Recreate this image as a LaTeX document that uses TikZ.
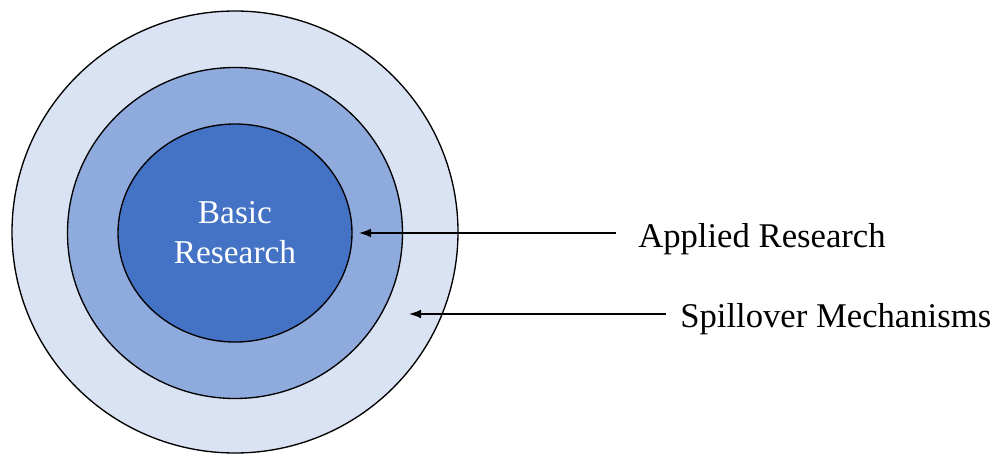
\documentclass[tikz,border=0pt]{standalone}
\usepackage{fontspec}
\setmainfont{Liberation Serif}
\usetikzlibrary{shapes.geometric,arrows.meta}
\definecolor{ringout}{HTML}{DAE3F3}
\definecolor{ringmid}{HTML}{8FAADC}
\definecolor{ringin}{HTML}{4472C4}
\tikzset{
  ring/.style={ellipse, draw=black, line width=1pt, inner sep=0pt},
  arr/.style={line width=1pt, -{Latex[length=9pt,width=6.5pt]}},
  lbl/.style={anchor=base west, inner sep=0pt, font=\fontsize{26}{30}\selectfont}
}
\begin{document}
\begin{tikzpicture}[x=0.75pt,y=-0.75pt]
\useasboundingbox (0,0) rectangle (993,457);
\node[ring, fill=ringout, minimum width=334.5pt, minimum height=331.5pt] (outer) at (235,232) {};
\node[ring, fill=ringmid, minimum width=251.25pt, minimum height=248.25pt] (middle) at (235,233) {};
\node[ring, fill=ringin, minimum width=175.5pt, minimum height=163.5pt, text=white, align=center, font=\fontsize{25}{30}\selectfont] (inner) at (235,233) {Basic\\Research};
\node[lbl] (applied) at (638,247) {Applied Research};
\node[lbl] (spill) at (680,327) {Spillover Mechanisms};
\coordinate (a1s) at (616,233);
\coordinate (a1e) at (359,233);
\coordinate (a2s) at (666,314);
\coordinate (a2e) at (409,314);
\draw[arr] (a1s) -- (a1e);
\draw[arr] (a2s) -- (a2e);
\end{tikzpicture}
\end{document}
